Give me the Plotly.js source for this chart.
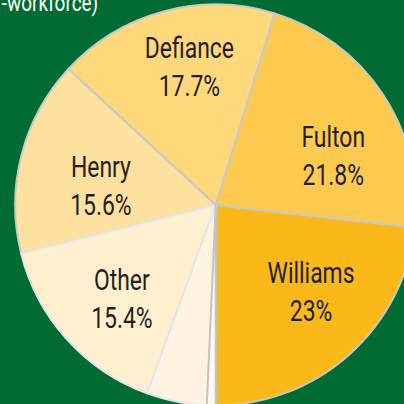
<!DOCTYPE html>
<html>
<head>
<meta charset="utf-8">
<script src="https://cdn.plot.ly/plotly-3.0.1.min.js"></script>
<style>
  html, body { margin: 0; padding: 0; width: 404px; height: 404px; overflow: hidden; background: #006B33; }
  #chart { width: 440px; height: 440px; }
</style>
</head>
<body>
<div id="chart"></div>
<script>
// ---- data ----
const categories = ["Williams", "Fulton", "Defiance", "Henry", "Other", "Minor A", "Minor B"];
const shares = [23, 21.8, 17.7, 15.6, 15.4, 4.8, 0.7];
const shownLabels = [true, true, true, true, true, false, false];
const titleText = "-workforce)";

// ---- style ----
const sliceColors = ["#FBB819", "#FDCA4F", "#FED87B", "#FEE19E", "#FEEFCF", "#FEF3E1", "#FFF8EC"];
const lineColors = ["#C8C8C8", "#C8C8C8", "#C8C8C8", "#C8C8C8", "#E3E7ED", "#E3E7ED", "#C4C4C4"];
const W = 440, H = 440;
const cxPx = 215.7, cyPx = 205, rPx = 200.5;
const labelShift = [-6, 10.6, 4.5, -5, -3.3, 0, 0];
const labelFrac = [0.643, 0.636, 0.698, 0.578, 0.663, 0, 0];
const fontFam = "Roboto, 'DejaVu Sans Condensed', sans-serif";
const condense = 0.79;

const domain = {
  x: [(cxPx - rPx) / W, (cxPx + rPx) / W],
  y: [(H - cyPx - rPx) / H, (H - cyPx + rPx) / H]
};

const total = shares.reduce((a, b) => a + b, 0);

const trace = {
  type: "pie",
  labels: categories,
  values: shares,
  sort: false,
  direction: "counterclockwise",
  // with counterclockwise, plotly ends the first slice at `rotation`; place its end at 6 o'clock
  rotation: 180 - shares[0] / total * 360,
  textinfo: "none",
  hoverinfo: "label+value",
  marker: { colors: sliceColors, line: { color: lineColors, width: 2 } },
  domain: domain,
  showlegend: false
};

const annotations = [];
let start = 180;
shares.forEach((v, i) => {
  const span = v / total * 360;
  const mid = start - span / 2;
  start -= span;
  if (!shownLabels[i]) return;
  const a = (mid + labelShift[i]) * Math.PI / 180;
  const rr = rPx * labelFrac[i];
  const px = cxPx + rr * Math.sin(a);
  const py = cyPx - rr * Math.cos(a);
  annotations.push({
    xref: "paper", yref: "paper",
    x: px / W, y: 1 - py / H,
    xanchor: "center", yanchor: "middle",
    text: categories[i] + "<br>" + v + "%",
    showarrow: false,
    font: { family: fontFam, size: 29, color: "#231F20" }
  });
});

annotations.push({
  xref: "paper", yref: "paper",
  x: 100 / W, y: 1 - 3 / H,
  xanchor: "right", yanchor: "middle",
  text: titleText,
  showarrow: false,
  font: { family: fontFam, size: 24, color: "#FFFFFF" }
});

const layout = {
  width: W, height: H,
  margin: { l: 0, r: 0, t: 0, b: 0 },
  paper_bgcolor: "#006B33",
  plot_bgcolor: "#006B33",
  annotations: annotations,
  showlegend: false
};

Plotly.newPlot("chart", [trace], layout, { displayModeBar: false, staticPlot: true }).then(() => {
  document.querySelectorAll(".annotation-text").forEach(t => {
    t.style.transformBox = "fill-box";
    t.style.transformOrigin = t.textContent === titleText ? "right center" : "center center";
    t.style.transform = "scaleX(" + condense + ")";
  });
});
</script>
</body>
</html>
